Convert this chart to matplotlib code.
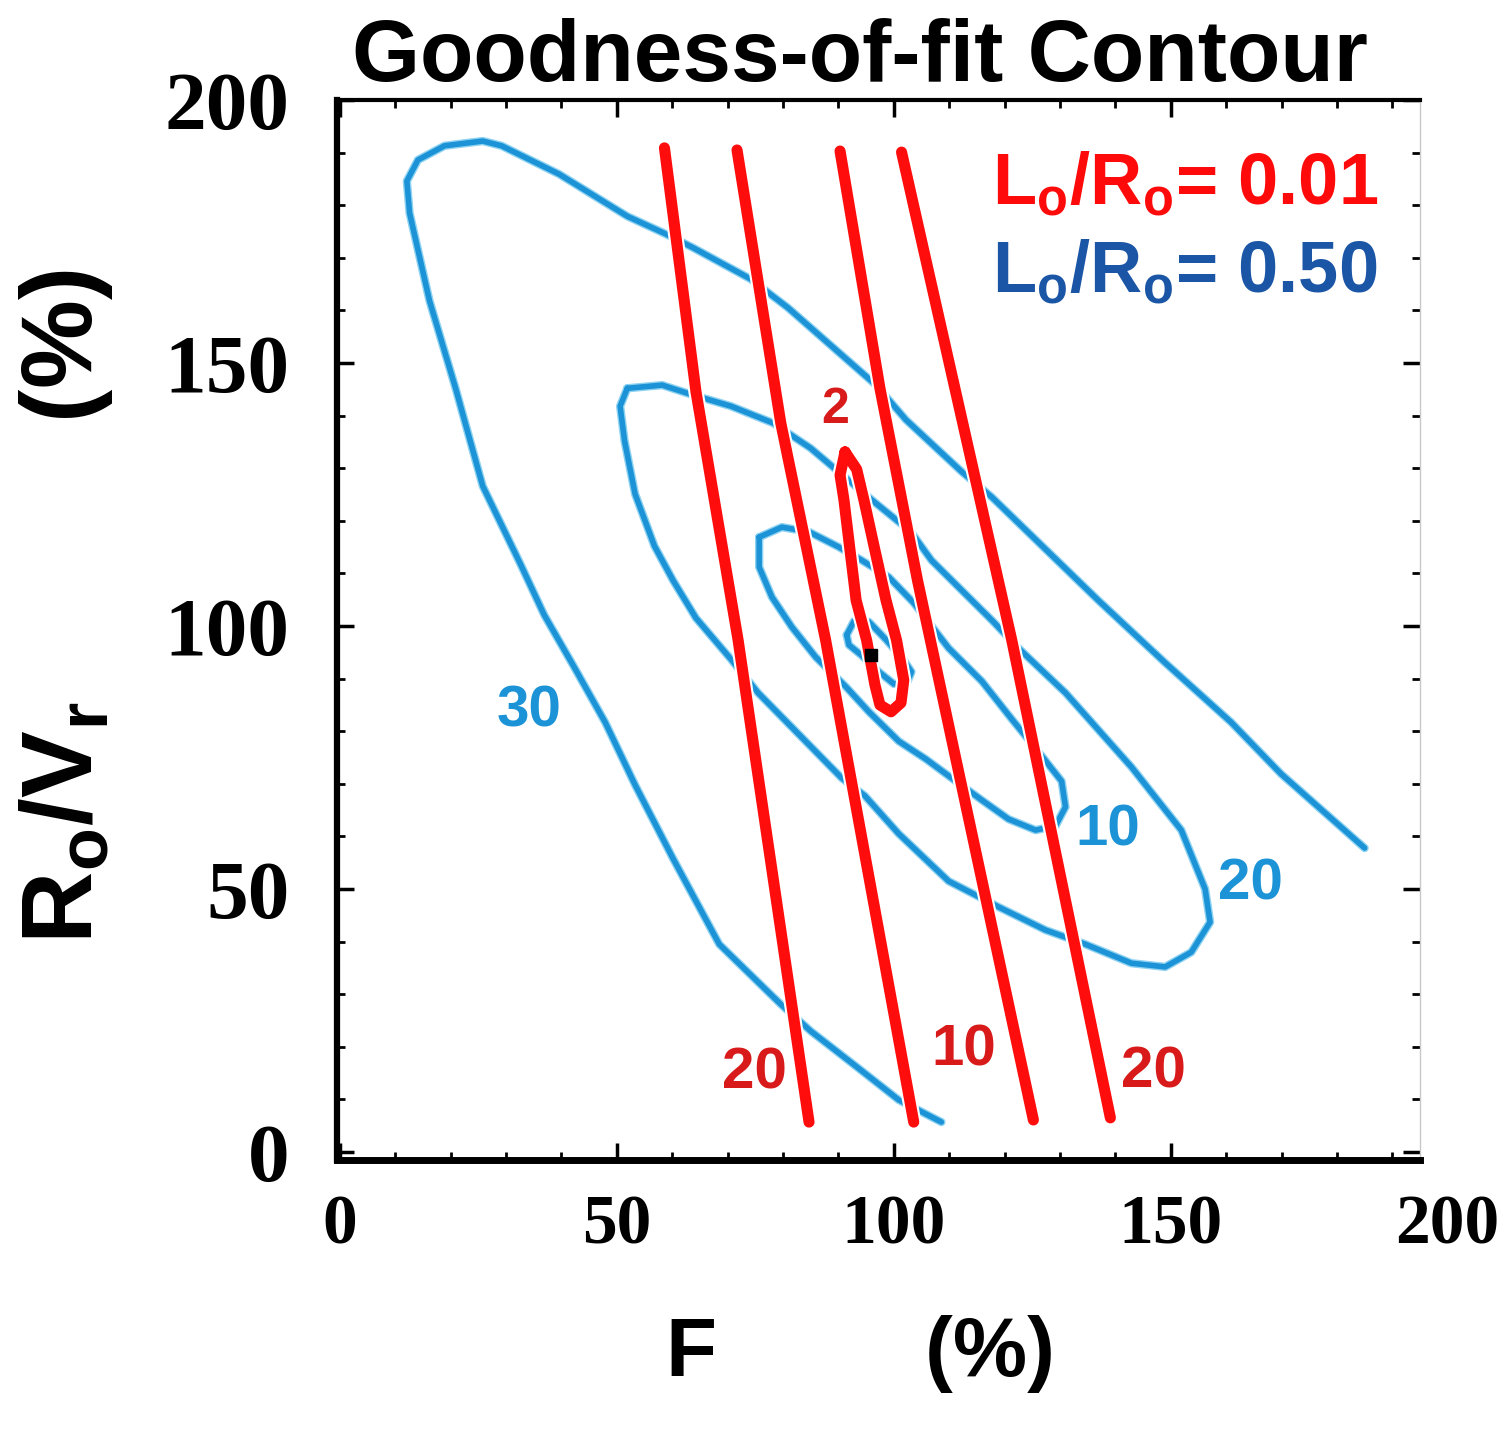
import matplotlib
matplotlib.use("Agg")
import matplotlib.pyplot as plt
import matplotlib.patheffects as pe
from matplotlib.ticker import MultipleLocator

# --- contour paths (F %, Ro/Vr %) ---
# blue family: Lo/Ro = 0.50
blue30_x = [108.6, 100.9, 93.3, 85.0, 79.6, 68.5, 60.2, 53.3, 47.9, 42.3, 36.9, 32.6, 25.8,
            20.9, 16.2, 12.6, 12.1, 14.1, 18.9, 25.8, 29.2, 39.6, 51.9, 58.9, 63.8, 74.1,
            80.9, 96.8, 102.2, 112.3, 117.7, 136.9, 149.0, 160.9, 169.9, 185.0]
blue30_y = [5.7, 9.9, 16.2, 23.0, 28.1, 39.5, 55.7, 69.8, 81.7, 92.2, 102.1, 111.8, 126.6,
            145.2, 161.8, 178.5, 184.6, 188.6, 191.3, 192.2, 191.3, 185.9, 177.9, 174.5, 171.9,
            166.0, 160.5, 145.8, 139.2, 129.3, 124.5, 104.9, 93.0, 81.7, 71.9, 57.8]

blue20_x = [51.9, 58.2, 63.8, 70.6, 78.2, 85.0, 96.0, 103.1, 106.8, 117.7, 122.5, 131.0, 142.9,
            151.9, 156.2, 157.1, 153.7, 149.0, 142.9, 134.6, 127.4, 118.9, 109.9, 100.9, 94.8,
            90.6, 75.5, 70.6, 64.3, 60.2, 56.8, 53.3, 51.4, 50.6, 51.9]
blue20_y = [145.2, 145.8, 143.9, 141.8, 138.6, 133.8, 124.0, 117.9, 112.5, 101.1, 95.8, 87.3, 73.2,
            61.2, 50.0, 43.7, 38.0, 35.2, 35.9, 39.5, 42.2, 46.6, 51.5, 60.5, 67.7,
            71.1, 87.3, 93.7, 101.5, 108.6, 115.2, 125.1, 135.2, 141.8, 145.2]

blue10_x = [75.7, 79.8, 84.7, 90.1, 94.2, 99.1, 103.6, 109.9, 115.9, 121.3, 126.7, 130.3, 131.0,
            129.2, 125.6, 120.7, 115.9, 111.2, 105.8, 100.9, 95.5, 91.4, 85.9, 81.6, 78.0, 75.7, 75.7]
blue10_y = [116.9, 118.8, 117.9, 115.0, 112.5, 109.3, 104.4, 95.8, 89.5, 82.3, 75.3, 70.5, 65.6,
            62.0, 61.2, 63.3, 66.9, 70.5, 74.7, 78.1, 83.7, 88.4, 94.1, 99.8, 105.5, 111.2, 116.9]

blue2_x = [91.5, 92.8, 95.5, 98.7, 101.8, 103.2, 102.3, 100.0, 97.3, 94.1, 91.9, 91.5]
blue2_y = [98.3, 100.9, 100.8, 97.3, 93.5, 91.3, 89.0, 89.0, 91.3, 94.5, 96.4, 98.3]

# red family: Lo/Ro = 0.01
red20a_x = [58.6, 64.3, 71.9, 84.7]
red20a_y = [190.9, 144.5, 97.3, 5.7]
red10a_x = [71.7, 79.6, 87.7, 103.6]
red10a_y = [190.5, 138.6, 97.3, 5.7]
red10b_x = [90.3, 97.5, 104.3, 125.2]
red10b_y = [190.3, 145.2, 108.6, 6.1]
red20b_x = [101.4, 121.3, 139.1]
red20b_y = [190.1, 97.3, 6.5]
red2_x = [91.2, 93.3, 94.6, 96.6, 98.6, 100.5, 101.8, 101.3, 99.5, 97.5, 96.6, 95.1, 93.2,
          92.1, 91.0, 90.3, 91.2]
red2_y = [133.1, 129.8, 124.0, 114.4, 104.9, 97.3, 89.7, 85.4, 83.7, 85.0, 88.8, 97.3, 104.9,
          114.4, 124.0, 128.7, 133.1]

best_fit = (95.9, 94.5)

# contour labels: (text, x, y)
blue_labels = [("30", 34.2, 83.7), ("10", 138.7, 61.2), ("20", 164.3, 50.8)]
red_labels = [("2", 89.4, 141.1), ("20", 74.8, 15.0), ("10", 112.6, 19.4), ("20", 146.8, 15.2)]

xticks = [0, 50, 100, 150, 200]
yticks = [0, 50, 100, 150, 200]

BLUE = "#1b93d6"
BLUE_HALO = "#8dd2f1"
RED = "#ff0d0d"
RED_TXT = "#d81a1a"

fig = plt.figure(figsize=(15, 14.37), dpi=100)
ax = fig.add_axes([0.2247, 0.1928, 0.7220, 0.7376])

halo = [pe.Stroke(linewidth=6.0, foreground=BLUE_HALO), pe.Normal()]
for xs, ys in [(blue30_x, blue30_y), (blue20_x, blue20_y), (blue10_x, blue10_y), (blue2_x, blue2_y)]:
    ax.plot(xs, ys, color=BLUE, lw=4.0, solid_joinstyle="round", solid_capstyle="round",
            path_effects=halo, zorder=2)

# red lines get a thin white rim, which cuts small gaps in the blue lines they cross
rim = [pe.Stroke(linewidth=11, foreground="white"), pe.Normal()]
for xs, ys in [(red20a_x, red20a_y), (red10a_x, red10a_y), (red10b_x, red10b_y),
               (red20b_x, red20b_y), (red2_x, red2_y)]:
    ax.plot(xs, ys, color=RED, lw=8, solid_capstyle="round", solid_joinstyle="round",
            path_effects=rim, zorder=3)

ax.plot(*best_fit, marker="s", color="black", markersize=9, zorder=4)

for txt, x, y in blue_labels:
    ax.text(x, y, txt, color=BLUE, fontsize=42, fontweight="bold", family="Liberation Sans",
            ha="center", va="center", zorder=5)
for txt, x, y in red_labels:
    ax.text(x, y, txt, color=RED_TXT, fontsize=42 if txt != "2" else 36, fontweight="bold",
            family="Liberation Sans", ha="center", va="center", zorder=5)

ax.text(117.7, 180.2, r"L$_\mathregular{o}$/R$_\mathregular{o}$= 0.01", color="#ff0a0a",
        fontsize=52, fontweight="bold", family="Liberation Sans", ha="left", va="baseline")
ax.text(117.7, 163.5, r"L$_\mathregular{o}$/R$_\mathregular{o}$= 0.50", color="#1a55a6",
        fontsize=52, fontweight="bold", family="Liberation Sans", ha="left", va="baseline")

ax.set_xlim(-0.5, 195)
ax.set_ylim(-1.5, 200)
ax.set_xticks(xticks[:-1])
ax.set_yticks(yticks)
ax.xaxis.set_minor_locator(MultipleLocator(10))
ax.yaxis.set_minor_locator(MultipleLocator(10))
ax.tick_params(which="both", direction="in", top=True, right=True, color="black")
ax.tick_params(which="major", length=12, width=2.5)
ax.tick_params(which="minor", length=6, width=2)
ax.tick_params(axis="x", pad=25)
ax.tick_params(axis="y", pad=34)
for lab in ax.get_xticklabels():
    lab.set_family("Liberation Serif")
    lab.set_fontweight("bold")
    lab.set_fontsize(50)
for lab in ax.get_yticklabels():
    lab.set_family("Liberation Serif")
    lab.set_fontweight("bold")
    lab.set_fontsize(60)
# last x tick label sits past the right edge of the frame
ax.text(xticks[-1], -0.033, str(xticks[-1]), transform=ax.get_xaxis_transform(),
        family="Liberation Serif", fontweight="bold", fontsize=50, ha="center", va="top",
        clip_on=False)

ax.spines["left"].set_linewidth(4.5)
ax.spines["bottom"].set_linewidth(5)
ax.spines["top"].set_linewidth(3)
ax.spines["right"].set_linewidth(1)
ax.spines["right"].set_color("#c8c8c8")

ax.set_title("Goodness-of-fit Contour", fontsize=63, fontweight="bold",
             family="Liberation Sans", pad=14, x=0.483)

ax.set_xlabel("F         (%)", fontsize=60, fontweight="bold", family="Liberation Sans")
ax.xaxis.set_label_coords(0.483, -0.146)
ax.set_ylabel(r"R$_\mathregular{o}$/V$_\mathregular{r}$          (%)", fontsize=72,
              fontweight="bold", family="Liberation Sans")
ax.yaxis.set_label_coords(-0.205, 0.522)

fig.savefig("out.png", dpi=100)
